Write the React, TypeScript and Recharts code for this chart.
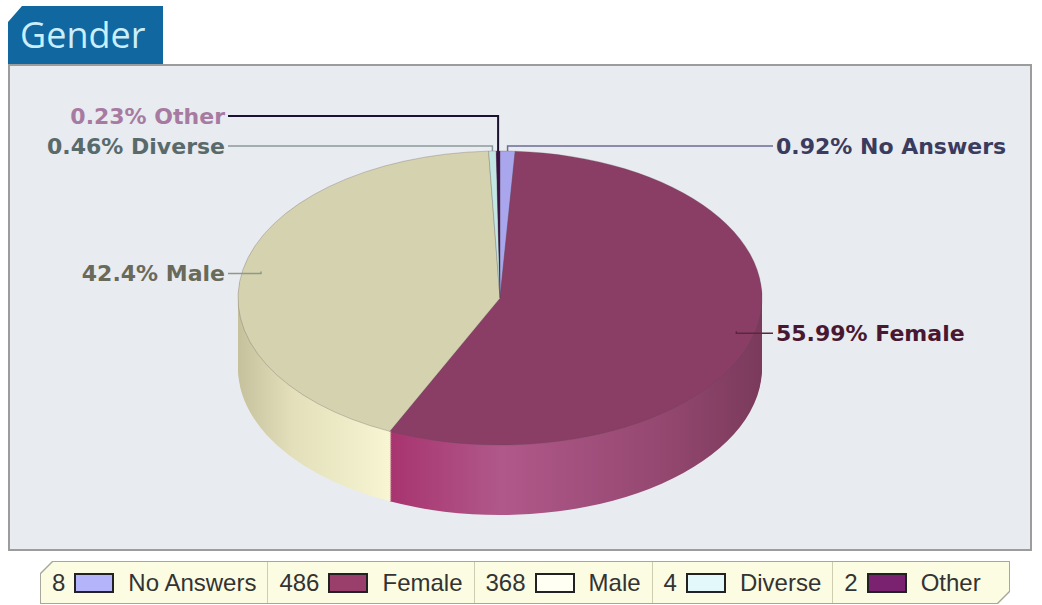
// Gender split shown as a tilted 3D pie (Recharts)
// The top face and side wall are stacked Pie layers squashed with CSS scaleY
import { PieChart, Pie, Cell, Legend } from 'recharts'

const categories = ['No Answers', 'Female', 'Male', 'Diverse', 'Other']
const counts = [8, 486, 368, 4, 2]

const topColors = ['#a9a6ee', '#8b3e65', '#d4d2af', '#c3e8e4', '#3a1245']
const sideColors = ['#8d8ad6', 'url(#sideFemale)', 'url(#sideMale)', '#a6d4d2', '#4a1a50']
const swatchColors = ['#b4b4fa', '#9a3f6b', '#fffff3', '#e2f8fb', '#7a2270']
const labelColors = ['#3b3b5e', '#4a1731', '#6a6a5a', '#596a6a', '#a77ba1']
const lineColors = ['#6c6c96', '#5a2640', '#8e9a86', '#8a9a9c', '#1c1230']
// label row relative to the ellipse top (null = level with the slice)
const labelRows: (number | null)[] = [-5, null, null, -5, -35]

const data = categories.map((name, i) => ({ name, count: counts[i] }))

const CX = 500
const CY = 298
const RX = 262
const RY = 147
const S = RY / RX
const DEPTH = 70
const STEP = 2
const layers: number[] = []
for (let d = DEPTH; d > 0; d -= STEP) layers.push(d)

const RADIAN = Math.PI / 180

function fmt(p: number) {
  return `${parseFloat((p * 100).toFixed(2))}%`
}

function renderLabel(props: any) {
  const { cx, cy, midAngle, percent, index, name } = props
  const f = percent < 0.02 ? 1 : 0.93
  const ax = cx + RX * f * Math.cos(midAngle * RADIAN)
  const ay = cy - RY * f * Math.sin(midAngle * RADIAN)
  const row = labelRows[index]
  const ry = row == null ? ay + 2 : cy - RY + row
  const left = ax < cx
  const tx = left ? cx - 275 : cx + 276
  const lx = left ? tx + 3 : tx - 3
  return (
    <g>
      <polyline
        points={`${lx},${ry} ${ax},${ry} ${ax},${ay}`}
        fill="none"
        stroke={lineColors[index]}
        strokeWidth={index === 4 ? 2 : 1.5}
      />
      <text
        x={tx}
        y={ry}
        textAnchor={left ? 'end' : 'start'}
        dominantBaseline="central"
        fill={labelColors[index]}
        style={{ fontFamily: 'DejaVu Sans', fontWeight: 'bold', fontSize: 22 }}
      >
        {fmt(percent)} {name}
      </text>
    </g>
  )
}

function renderLegend(props: any) {
  // every stacked layer adds its own entries, keep one per category in data order
  const seen = new Set<string>()
  const items = (props.payload || [])
    .filter((e: any) => {
      if (seen.has(e.value)) return false
      seen.add(e.value)
      return true
    })
    .sort((a: any, b: any) => categories.indexOf(a.value) - categories.indexOf(b.value))
  const shape = 'polygon(12px 0, 100% 0, 100% calc(100% - 12px), calc(100% - 12px) 100%, 0 100%, 0 12px)'
  return (
    <div style={{ position: 'relative', width: 970, height: 43, background: '#a8a79c', clipPath: shape }}>
      <div
        style={{
          position: 'absolute', left: 1, top: 1, width: 968, height: 41, background: '#fcfce3', clipPath: shape,
          display: 'flex', alignItems: 'center', fontFamily: 'Liberation Sans, Arial', fontSize: 24, color: '#333',
        }}
      >
        {items.map((entry: any, i: number) => {
          const k = categories.indexOf(entry.value)
          return (
            <div
              key={entry.value}
              style={{
                display: 'flex', alignItems: 'center', height: '100%', padding: '0 11px 0 11px',
                borderLeft: i ? '1px solid #cfcdb0' : 'none', flex: 'none',
              }}
            >
              <span>{entry.payload?.count ?? counts[k]}</span>
              <span
                style={{
                  display: 'inline-block', width: 40, height: 20, margin: '0 14px 0 9px',
                  background: swatchColors[k], border: '2px solid #222', boxSizing: 'border-box',
                }}
              />
              <span>{entry.value}</span>
            </div>
          )
        })}
      </div>
    </div>
  )
}

export default function App() {
  return (
    <div style={{ position: 'relative', width: 1042, height: 605, background: '#fff', overflow: 'hidden' }}>
      <style>{`
        body { margin: 0; }
        .pie3d path.recharts-sector { transform-box: view-box; transform-origin: 0px ${CY}px; transform: scaleY(${S}); }
      `}</style>
      <svg width={0} height={0} style={{ position: 'absolute' }}>
        <defs>
          <linearGradient id="sideMale" gradientUnits="userSpaceOnUse" x1={238} y1={0} x2={392} y2={0}>
            <stop offset="0" stopColor="#c4c19c" />
            <stop offset="0.35" stopColor="#e2dfba" />
            <stop offset="1" stopColor="#f8f6d3" />
          </linearGradient>
          <linearGradient id="sideFemale" gradientUnits="userSpaceOnUse" x1={390} y1={0} x2={762} y2={0}>
            <stop offset="0" stopColor="#a8346f" />
            <stop offset="0.3" stopColor="#b0588a" />
            <stop offset="0.75" stopColor="#93476f" />
            <stop offset="1" stopColor="#7a3a5b" />
          </linearGradient>
        </defs>
      </svg>
      {/* title tab */}
      <div
        style={{
          position: 'absolute', left: 8, top: 6, width: 155, height: 59, background: '#1167a0',
          clipPath: 'polygon(14px 0, 100% 0, 100% 100%, 0 100%, 0 16px)',
          color: '#c9eefc', fontFamily: 'Open Sans', fontSize: 36, lineHeight: '58px', paddingLeft: 12, boxSizing: 'border-box',
        }}
      >
        Gender
      </div>
      {/* plot frame */}
      <div
        style={{
          position: 'absolute', left: 8, top: 64, width: 1024, height: 487, background: '#e8ebef',
          border: '2px solid #9c9c9c', boxSizing: 'border-box',
        }}
      />
      <div style={{ position: 'absolute', left: 0, top: 0 }}>
        <PieChart width={1042} height={605} margin={{ top: 0, right: 0, bottom: 0, left: 0 }} className="pie3d">
          {layers.map((d) => (
            <Pie
              key={d}
              data={data}
              dataKey="count"
              nameKey="name"
              cx={CX}
              cy={CY + d / S}
              outerRadius={RX}
              startAngle={90}
              endAngle={-270}
              stroke="none"
              legendType="none"
              isAnimationActive={false}
            >
              {data.map((e, i) => (
                <Cell key={e.name} fill={sideColors[i]} />
              ))}
            </Pie>
          ))}
          <Pie
            data={data}
            dataKey="count"
            nameKey="name"
            cx={CX}
            cy={CY}
            outerRadius={RX}
            startAngle={90}
            endAngle={-270}
            stroke="#5a4a55"
            strokeOpacity={0.35}
            strokeWidth={1}
            label={renderLabel}
            labelLine={false}
            isAnimationActive={false}
          >
            {data.map((e, i) => (
              <Cell key={e.name} fill={topColors[i]} />
            ))}
          </Pie>
          <Legend
            content={renderLegend}
            verticalAlign="bottom"
            wrapperStyle={{ left: 40, top: 561, width: 970, height: 43, bottom: 'auto' }}
          />
        </PieChart>
      </div>
    </div>
  )
}
